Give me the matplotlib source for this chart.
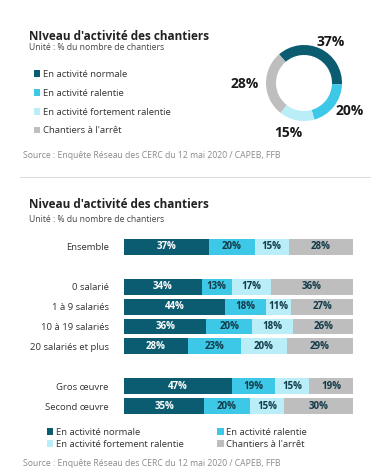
import numpy as np
import matplotlib.pyplot as plt
from matplotlib.patches import Patch
from matplotlib.lines import Line2D

plt.rcParams['font.family'] = ['Open Sans', 'DejaVu Sans']

series = ["En activité normale", "En activité ralentie",
          "En activité fortement ralentie", "Chantiers à l'arrêt"]
colors = ["#0b5c71", "#3cc8e6", "#b9eef8", "#bebebe"]
text_colors = ["white", "#123a48", "#123a48", "#123a48"]

# donut : ensemble
donut_vals = [37, 20, 15, 28]

# barres
categories = ["Ensemble", "0 salarié", "1 à 9 salariés", "10 à 19 salariés",
              "20 salariés et plus", "Gros œuvre", "Second œuvre"]
rows = [0, 2, 3, 4, 5, 7, 8]
normale = [37, 34, 44, 36, 28, 47, 35]
ralentie = [20, 13, 18, 20, 23, 19, 20]
fortement = [15, 17, 11, 18, 20, 15, 15]
arret = [28, 36, 27, 26, 29, 19, 30]

source = "Source : Enquête Réseau des CERC du 12 mai 2020 / CAPEB, FFB"

W, H = 380, 475
fig = plt.figure(figsize=(W / 100, H / 100), dpi=100)
fig.patch.set_facecolor("white")

def fx(px):
    return px / W

def fy(py):
    return 1 - py / H

title_col = "#222222"
sub_col = "#444444"
src_col = "#8a8a8a"

# ---- top part ----
fig.text(fx(29), fy(36), "NIveau d'activité des chantiers", fontsize=8.5,
         fontweight="bold", color=title_col, va="center")
fig.text(fx(29), fy(48), "Unité : % du nombre de chantiers", fontsize=6.2,
         color=sub_col, va="center")

handles = [Patch(facecolor=c, edgecolor="none") for c in colors]
fig.legend(handles, series, loc="upper left", bbox_to_anchor=(fx(29), fy(65)),
           frameon=False, fontsize=6.8, handlelength=0.7, handleheight=0.7,
           handletextpad=0.25, labelspacing=1.05, borderpad=0,
           labelcolor="#333333")

# donut axes: center (304, 83), radius 38 px
ax_d = fig.add_axes([fx(254), fy(133), fx(100), 100 / H])
wedges, texts = ax_d.pie(donut_vals, colors=colors, startangle=131,
                         counterclock=False, radius=0.76,
                         wedgeprops=dict(width=0.2, linewidth=0),
                         labels=[f"{v}%" for v in donut_vals], labeldistance=1.2,
                         textprops=dict(fontsize=10, fontweight="bold",
                                        color="#1a1a1a"))
# small nudges to match label placement
nudges = [(-0.14, 0.0), (-0.08, 0.0), (0.14, -0.1), (0.0, 0.0)]
for t, (dx, dy) in zip(texts, nudges):
    x, y = t.get_position()
    t.set_position((x + dx, y + dy))
ax_d.set_xlim(-1, 1)
ax_d.set_ylim(-1, 1)
ax_d.set_aspect("equal")
ax_d.axis("off")

fig.text(fx(23), fy(155), source, fontsize=6.2, color=src_col, va="center")

# separator
fig.add_artist(Line2D([fx(20), fx(370)], [fy(177), fy(177)], color="#dddddd",
                      linewidth=0.8))

# ---- bottom part ----
fig.text(fx(29), fy(205), "Niveau d'activité des chantiers", fontsize=8.5,
         fontweight="bold", color=title_col, va="center")
fig.text(fx(29), fy(219), "Unité : % du nombre de chantiers", fontsize=6.2,
         color=sub_col, va="center")

top_px, bot_px = 237, 416
ax = fig.add_axes([fx(124), fy(bot_px), fx(229), (bot_px - top_px) / H])
left = np.zeros(len(categories))
for vals, c, tc in zip([normale, ralentie, fortement, arret], colors, text_colors):
    bars = ax.barh(rows, vals, left=left, height=0.8, color=c, edgecolor="none")
    ax.bar_label(bars, labels=[f"{v}%" for v in vals], label_type="center",
                 fontsize=7, fontweight="bold", color=tc)
    left += np.array(vals)
ax.set_xlim(0, 100)
ax.set_ylim(8.5, -0.5)
ax.set_yticks(rows)
ax.set_yticklabels(categories, fontsize=6.8, color="#333333")
ax.tick_params(axis="y", length=0, pad=11)
ax.set_xticks([])
for s in ax.spines.values():
    s.set_visible(False)

order = [0, 2, 1, 3]
fig.legend([handles[i] for i in order], [series[i] for i in order], ncol=2,
           loc="upper left", bbox_to_anchor=(fx(42), fy(423)), frameon=False,
           fontsize=6.8, handlelength=0.7, handleheight=0.7,
           handletextpad=0.25, labelspacing=0.3, columnspacing=3.6,
           borderpad=0, labelcolor="#333333")

fig.text(fx(23), fy(464), source, fontsize=6.2, color=src_col, va="center")

fig.savefig("out.png", dpi=100)
